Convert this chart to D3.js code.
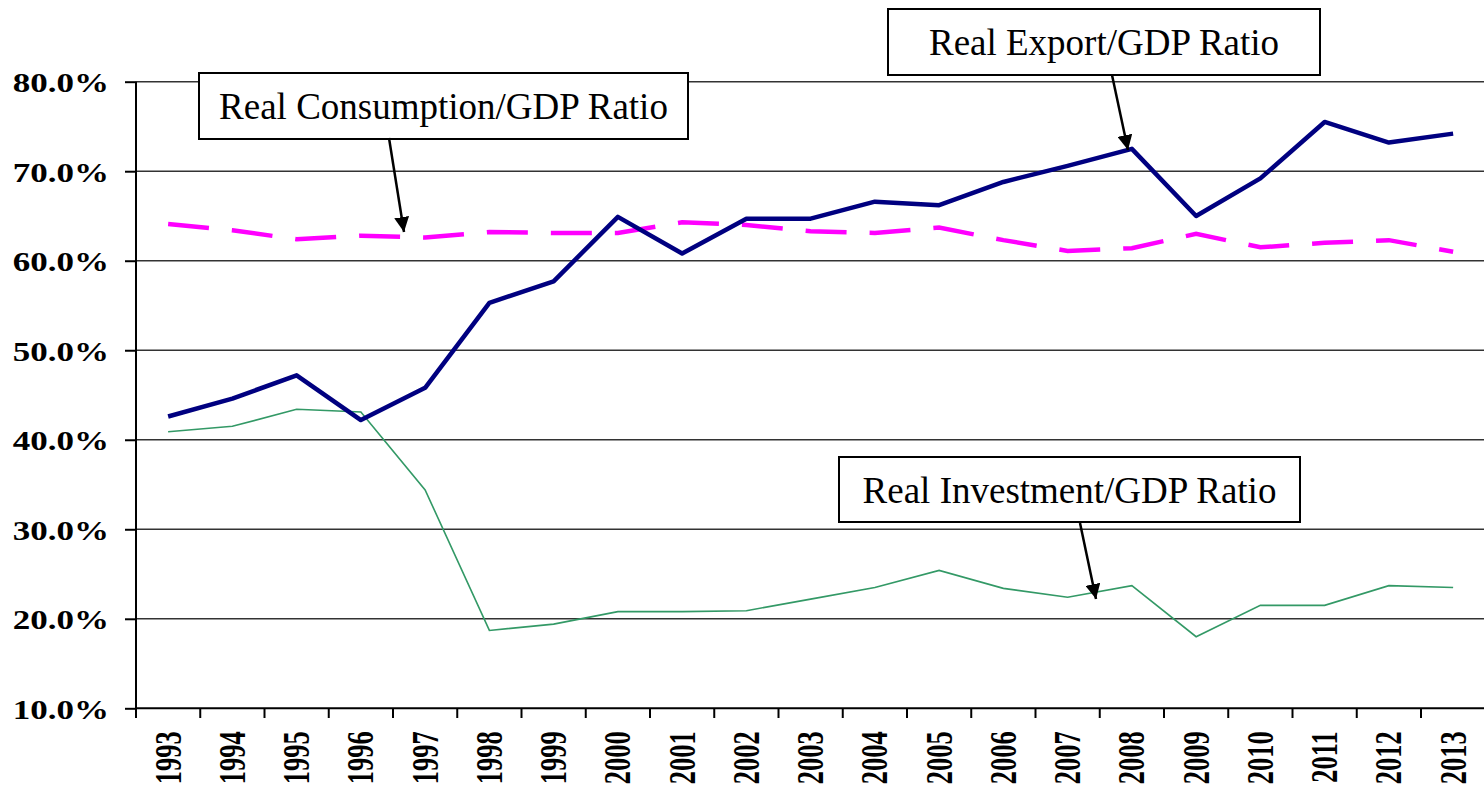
<!DOCTYPE html>
<html>
<head>
<meta charset="utf-8">
<script src="https://cdn.jsdelivr.net/npm/d3@7"></script>
<style>
  body { margin: 0; background: #fff; }
  svg { display: block; }
  text { font-family: "Liberation Serif", "Times New Roman", serif; }
</style>
</head>
<body>
<div id="chart"></div>
<script>
// data (percent)
var years = ["1993","1994","1995","1996","1997","1998","1999","2000","2001","2002","2003",
             "2004","2005","2006","2007","2008","2009","2010","2011","2012","2013"];
var exportRatio = [42.6, 44.6, 47.2, 42.2, 45.8, 55.3, 57.7, 64.9, 60.8, 64.7, 64.7,
                   66.6, 66.2, 68.8, 70.6, 72.5, 65.0, 69.2, 75.5, 73.2, 74.2];
var consumptionRatio = [64.1, 63.4, 62.4, 62.8, 62.6, 63.2, 63.1, 63.1, 64.3, 64.0, 63.3,
                        63.1, 63.7, 62.3, 61.1, 61.4, 63.0, 61.5, 62.0, 62.3, 61.0];
var investmentRatio = [40.9, 41.5, 43.4, 43.1, 34.4, 18.7, 19.4, 20.8, 20.8, 20.9, 22.2,
                       23.5, 25.4, 23.4, 22.4, 23.7, 18.0, 21.5, 21.5, 23.7, 23.5];
var yTicks = [10, 20, 30, 40, 50, 60, 70, 80];

var width = 1484, height = 789;

var svg = d3.select("#chart")
  .append("svg")
    .attr("width", width)
    .attr("height", height);

// scales
var x = d3.scaleBand()
  .domain(years)
  .range([136, 136 + 21 * 64.25]);

var y = d3.scaleLinear()
  .domain([10, 80])
  .range([708.3, 81.7]);

var cx = function(i) { return x(years[i]) + x.bandwidth() / 2; };

// gridlines
svg.append("g")
  .selectAll("line")
  .data(yTicks.slice(1))
  .enter().append("line")
    .attr("x1", 136).attr("x2", width)
    .attr("y1", function(d) { return y(d); })
    .attr("y2", function(d) { return y(d); })
    .attr("stroke", "#333")
    .attr("stroke-width", 1.6);

// Y axis
var yAxis = svg.append("g")
  .attr("transform", "translate(136,0)")
  .call(d3.axisLeft(y).tickValues(yTicks).tickSize(11).tickSizeOuter(0)
        .tickFormat(function(d) { return d3.format(".1f")(d) + "%"; }));
yAxis.select(".domain").remove();
yAxis.selectAll(".tick line").attr("stroke", "#000").attr("stroke-width", 2);
yAxis.selectAll(".tick text")
  .attr("x", -27 / 1.25)
  .attr("dy", "0.36em")
  .attr("transform", "scale(1.25,1)")
  .attr("fill", "#000")
  .style("font-size", "28px")
  .style("font-weight", "bold");

// X axis labels
var xAxis = svg.append("g")
  .attr("transform", "translate(0,708.3)")
  .call(d3.axisBottom(x).tickSize(0).tickSizeOuter(0));
xAxis.select(".domain").remove();
xAxis.selectAll(".tick text")
  .attr("y", 0)
  .attr("dy", 0)
  .attr("text-anchor", "end")
  .attr("transform", "translate(0,23) scale(1.4,1) rotate(-90) translate(0,9)")
  .attr("fill", "#000")
  .style("font-size", "26.5px")
  .style("font-weight", "bold");

// X tick marks at category edges
svg.append("g")
  .selectAll("line")
  .data(years.concat(["end"]))
  .enter().append("line")
    .attr("x1", function(d) { return d === "end" ? x.range()[1] : x(d); })
    .attr("x2", function(d) { return d === "end" ? x.range()[1] : x(d); })
    .attr("y1", 708.3).attr("y2", 718)
    .attr("stroke", "#000")
    .attr("stroke-width", 2);

// axis lines
svg.append("line")
  .attr("x1", 136).attr("x2", 136)
  .attr("y1", y(80)).attr("y2", 718)
  .attr("stroke", "#000").attr("stroke-width", 2);
svg.append("line")
  .attr("x1", 136).attr("x2", width)
  .attr("y1", y(10)).attr("y2", y(10))
  .attr("stroke", "#000").attr("stroke-width", 2);

// lines
var line = d3.line()
  .x(function(d, i) { return cx(i); })
  .y(function(d) { return y(d); });

svg.append("path")
  .datum(investmentRatio)
  .attr("d", line)
  .attr("fill", "none")
  .attr("stroke", "#339966")
  .attr("stroke-width", 1.6);

svg.append("path")
  .datum(consumptionRatio)
  .attr("d", line)
  .attr("fill", "none")
  .attr("stroke", "#ff00ff")
  .attr("stroke-width", 4.5)
  .attr("stroke-dasharray", "41,23");

svg.append("path")
  .datum(exportRatio)
  .attr("d", line)
  .attr("fill", "none")
  .attr("stroke", "#000080")
  .attr("stroke-width", 4.5)
  .attr("stroke-linejoin", "round");

// annotations
svg.append("defs").append("marker")
  .attr("id", "arrow")
  .attr("viewBox", "0 0 10 10")
  .attr("refX", 10).attr("refY", 5)
  .attr("markerWidth", 6).attr("markerHeight", 6)
  .attr("markerUnits", "strokeWidth")
  .attr("orient", "auto")
  .append("path")
    .attr("d", "M0,0 L10,5 L0,10 z")
    .attr("fill", "#000");

var notes = [
  {label: "Real Consumption/GDP Ratio", box: [199, 73, 489, 66], from: [389, 138], to: [404, 232]},
  {label: "Real Export/GDP Ratio", box: [888, 9, 432, 66], from: [1112, 75], to: [1128, 150]},
  {label: "Real Investment/GDP Ratio", box: [839, 457, 461, 65], from: [1080, 523], to: [1096, 599]}
];

var note = svg.append("g").selectAll("g")
  .data(notes)
  .enter().append("g");

note.append("rect")
  .attr("x", function(d) { return d.box[0]; })
  .attr("y", function(d) { return d.box[1]; })
  .attr("width", function(d) { return d.box[2]; })
  .attr("height", function(d) { return d.box[3]; })
  .attr("fill", "#fff")
  .attr("stroke", "#000")
  .attr("stroke-width", 2);

note.append("text")
  .attr("x", function(d) { return d.box[0] + d.box[2] / 2; })
  .attr("y", function(d) { return d.box[1] + 46; })
  .attr("text-anchor", "middle")
  .style("font-size", "37px")
  .text(function(d) { return d.label; });

note.append("line")
  .attr("x1", function(d) { return d.from[0]; })
  .attr("y1", function(d) { return d.from[1]; })
  .attr("x2", function(d) { return d.to[0]; })
  .attr("y2", function(d) { return d.to[1]; })
  .attr("stroke", "#000")
  .attr("stroke-width", 2.5)
  .attr("marker-end", "url(#arrow)");
</script>
</body>
</html>
